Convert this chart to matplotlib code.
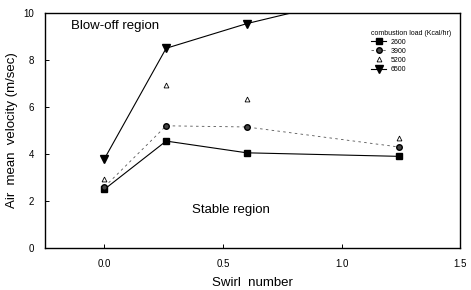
import matplotlib
matplotlib.use("Agg")
import matplotlib.pyplot as plt

plt.rcParams['font.family'] = ['Liberation Sans', 'DejaVu Sans']

# swirl number and air mean velocity (m/sec) per combustion load
swirl = [0.0, 0.26, 0.6, 1.24]
v2600 = [2.5, 4.55, 4.05, 3.9]
v3900 = [2.6, 5.2, 5.15, 4.3]
v5200 = [2.95, 6.95, 6.35, 4.7]
v6500 = [3.8, 8.5, 9.55, 11.1]

fig = plt.figure(figsize=(4.71, 2.9), dpi=100)
ax = fig.add_axes([0.096, 0.145, 0.881, 0.81])

ax.plot(swirl, v2600, '-', color='black', lw=0.8, marker='s', ms=4.5, label='2600')
ax.plot(swirl, v3900, '--', color='#555555', lw=0.6, dashes=(3, 4),
        marker='o', ms=4, mfc='#444444', mec='black', label='3900')
ax.plot(swirl, v5200, linestyle='none',
        marker='^', ms=3.5, mfc='white', mec='black', mew=0.6, label='5200')
ax.plot(swirl, v6500, '-', color='black', lw=0.8, marker='v', ms=5.5, label='6500')

ax.set_xlim(-0.25, 1.5)
ax.set_ylim(0, 10)
ax.set_xticks([0.0, 0.5, 1.0, 1.5])
ax.set_xticklabels(['0.0', '0.5', '1.0', '1.5'])
ax.set_yticks([0, 2, 4, 6, 8, 10])
ax.tick_params(labelsize=7, length=3, width=0.7, direction='in', pad=8)
for s in ax.spines.values():
    s.set_linewidth(1.0)

ax.set_xlabel('Swirl  number', fontsize=9.5, labelpad=6)
ax.set_ylabel('Air  mean  velocity (m/sec)', fontsize=9.5, labelpad=4)

ax.text(-0.14, 9.3, 'Blow-off region', fontsize=9.5)
ax.text(0.37, 1.5, 'Stable region', fontsize=9.5)

leg = ax.legend(title='combustion load (Kcal/hr)', loc='upper right',
                bbox_to_anchor=(0.99, 0.95), fontsize=5, title_fontsize=5,
                frameon=False, handlelength=2.2, labelspacing=0.3,
                borderpad=0.2, handletextpad=0.6)
leg._legend_box.align = 'left'

fig.savefig('out.png', dpi=100)
